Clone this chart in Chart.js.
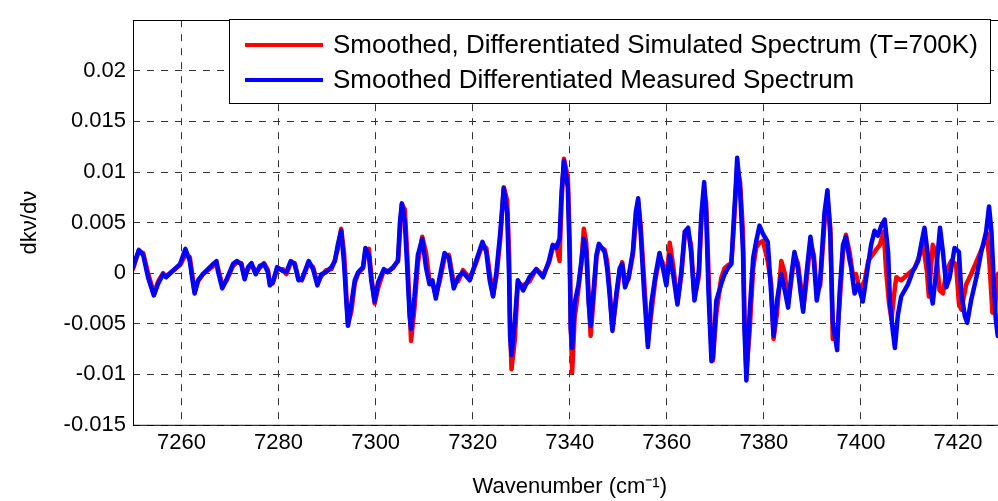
<!DOCTYPE html>
<html>
<head>
<meta charset="utf-8">
<script src="https://cdn.jsdelivr.net/npm/chart.js@4.4.0/dist/chart.umd.min.js"></script>
<style>
  html, body { margin: 0; padding: 0; background: #fff; overflow: hidden; }
  #wrap { width: 1010px; height: 501px; }
</style>
</head>
<body>
<div id="wrap"><canvas id="grafico"></canvas></div>
<script>
// wavenumber grid shared by both curves up to 7397.7 cm-1
const waveCommon = [7250.0, 7251.2, 7252.1, 7253.1, 7254.3, 7255.2, 7256.2, 7256.8, 7259.7, 7260.8,
  7261.7, 7262.4, 7262.7, 7263.4, 7264.4, 7266.5, 7267.2, 7267.5, 7268.4, 7269.2,
  7270.6, 7271.4, 7272.3, 7273.0, 7273.7, 7274.4, 7275.1, 7275.3, 7276.1, 7277.0,
  7277.8, 7278.2, 7278.8, 7279.7, 7280.9, 7281.6, 7282.5, 7283.3, 7284.1, 7284.8,
  7286.2, 7287.1, 7288.0, 7288.8, 7289.8, 7290.9, 7291.6, 7292.2, 7292.9, 7293.5,
  7294.0, 7294.3, 7295.0, 7295.7, 7296.4, 7297.4, 7297.9, 7298.6, 7299.1, 7299.8,
  7300.5, 7301.7, 7302.5, 7303.6, 7304.6, 7305.0, 7305.4, 7306.0, 7306.5, 7307.0,
  7307.3, 7308.0, 7308.7, 7309.6, 7310.4, 7311.1, 7311.7, 7312.4, 7313.2, 7314.2,
  7315.1, 7316.1, 7317.0, 7318.0, 7319.4, 7320.7, 7322.0, 7322.8, 7323.5, 7324.2,
  7324.9, 7325.7, 7326.4, 7327.1, 7327.5, 7327.7, 7328.0, 7328.7, 7329.3, 7330.4,
  7331.7, 7333.1, 7334.5, 7335.7, 7336.5, 7337.2, 7337.9, 7338.3, 7338.8, 7339.6,
  7340.0, 7340.2, 7340.5, 7341.0, 7341.8, 7342.4, 7342.9, 7343.4, 7343.9, 7344.3,
  7345.0, 7345.5, 7346.0, 7347.2, 7347.7, 7348.2, 7348.8, 7349.6, 7350.3, 7350.8,
  7351.4, 7352.1, 7353.0, 7353.6, 7354.1, 7354.6, 7355.3, 7356.1, 7356.8, 7357.6,
  7358.5, 7359.2, 7359.9, 7360.6, 7361.3, 7362.2, 7363.0, 7363.7, 7364.4, 7365.0,
  7365.7, 7366.6, 7367.1, 7367.7, 7368.1, 7368.6, 7369.2, 7369.5, 7370.2, 7371.2,
  7371.9, 7372.6, 7373.3, 7373.8, 7374.2, 7374.5, 7375.1, 7375.7, 7376.0, 7376.4,
  7377.1, 7377.8, 7378.4, 7379.1, 7379.8, 7380.8, 7381.5, 7382.0, 7382.7, 7383.6,
  7384.3, 7385.0, 7385.6, 7386.3, 7387.0, 7387.6, 7388.1, 7388.7, 7389.6, 7390.3,
  7390.9, 7391.6, 7392.5, 7393.1, 7393.7, 7394.2, 7395.1, 7395.6, 7396.3, 7396.9,
  7397.7]

const waveMeasTail = [7398.0, 7398.7, 7399.4, 7400.4, 7401.5, 7402.1, 7402.8, 7403.5, 7404.2, 7404.9,
  7405.6, 7406.0, 7406.6, 7407.0, 7407.6, 7408.3, 7409.7, 7410.7, 7411.8, 7412.4,
  7413.1, 7413.8, 7414.3, 7414.8, 7415.5, 7416.3, 7416.9, 7417.6, 7418.3, 7419.3,
  7420.2, 7420.7, 7421.4, 7421.9, 7422.7, 7423.8, 7424.8, 7425.8, 7426.4, 7426.9,
  7427.4, 7427.8, 7428.2, 7430.0]

const waveSimTail = [7398.4, 7399.0, 7399.8, 7400.8, 7401.5, 7402.8, 7403.9, 7404.7, 7405.2, 7405.8,
  7406.3, 7407.0, 7407.3, 7408.3, 7409.7, 7411.1, 7412.1, 7412.8, 7413.6, 7414.0,
  7414.8, 7415.5, 7416.2, 7416.9, 7417.6, 7418.6, 7419.6, 7420.2, 7420.7, 7421.7,
  7422.7, 7424.1, 7425.5, 7426.0, 7426.5, 7427.1, 7427.6, 7428.2, 7430.0]

// measured spectrum (blue)
const measured = [0.0006, 0.0023, 0.0018, -0.0004, -0.0022, -0.0010, -0.0001, -0.0004, 0.0009, 0.0024,
  0.0012, -0.0011, -0.0020, -0.0007, -0.0001, 0.0009, 0.0012, 0.0002, -0.0015, -0.0007,
  0.0009, 0.0012, 0.0009, -0.0006, 0.0006, 0.0010, 0.0001, -0.0001, 0.0007, 0.0009,
  0.0001, -0.0012, -0.0009, 0.0006, 0.0002, 0.0001, 0.0012, 0.0009, -0.0007, -0.0006,
  0.0012, 0.0004, -0.0012, -0.0001, 0.0001, 0.0006, 0.0012, 0.0028, 0.0042, 0.0009,
  -0.0031, -0.0052, -0.0030, -0.0007, 0.0001, 0.0006, 0.0025, 0.0018, -0.0007, -0.0028,
  -0.0009, 0.0004, 0.0001, 0.0006, 0.0012, 0.0050, 0.0069, 0.0052, 0.0006, -0.0042,
  -0.0055, -0.0023, 0.0018, 0.0034, 0.0005, -0.0011, -0.0007, -0.0025, -0.0004, 0.0020,
  0.0015, -0.0015, -0.0004, 0.0001, -0.0007, 0.0012, 0.0031, 0.0021, -0.0007, -0.0023,
  0.0002, 0.0041, 0.0084, 0.0060, -0.0004, -0.0062, -0.0081, -0.0046, -0.0007, -0.0017,
  -0.0004, 0.0004, -0.0004, 0.0012, 0.0028, 0.0025, 0.0034, 0.0079, 0.0111, 0.0085,
  0.0012, -0.0055, -0.0074, -0.0030, -0.0011, 0.0012, 0.0034, 0.0021, -0.0030, -0.0052,
  -0.0011, 0.0018, 0.0029, 0.0021, 0.0005, -0.0020, -0.0057, -0.0020, 0.0005, 0.0009,
  -0.0014, -0.0004, 0.0021, 0.0060, 0.0074, 0.0041, -0.0017, -0.0073, -0.0030, -0.0004,
  0.0020, 0.0005, -0.0012, 0.0018, -0.0001, -0.0031, 0.0002, 0.0041, 0.0045, 0.0021,
  -0.0027, 0.0002, 0.0057, 0.0090, 0.0060, -0.0020, -0.0087, -0.0084, -0.0027, -0.0011,
  -0.0001, 0.0005, 0.0009, 0.0053, 0.0085, 0.0114, 0.0082, 0.0021, -0.0055, -0.0106,
  -0.0036, 0.0015, 0.0031, 0.0047, 0.0039, 0.0031, -0.0020, -0.0062, -0.0027, -0.0001,
  -0.0017, -0.0034, -0.0004, 0.0021, 0.0005, -0.0020, -0.0038, -0.0004, 0.0036, 0.0012,
  -0.0027, -0.0007, 0.0060, 0.0082, 0.0037, -0.0049, -0.0076, -0.0020, 0.0028, 0.0036,
  0.0012,
  0.0005, -0.0020, -0.0011, -0.0028, 0.0009, 0.0028, 0.0042, 0.0037, 0.0047, 0.0053,
  0.0021, -0.0030, -0.0058, -0.0074, -0.0042, -0.0023, -0.0011, 0.0002, 0.0012, 0.0028,
  0.0045, 0.0018, -0.0017, -0.0030, 0.0002, 0.0045, 0.0021, -0.0014, -0.0004, 0.0025,
  0.0021, -0.0020, -0.0042, -0.0049, -0.0027, -0.0004, 0.0021, 0.0041, 0.0066, 0.0041,
  -0.0011, -0.0046, -0.0062, -0.0060]

// simulated spectrum, T = 700 K (red)
const simulated = [0.0004, 0.0022, 0.0020, 0.0000, -0.0020, -0.0008, 0.0000, -0.0003, 0.0008, 0.0018,
  0.0016, -0.0008, -0.0019, -0.0008, -0.0001, 0.0007, 0.0010, 0.0005, -0.0012, -0.0008,
  0.0007, 0.0011, 0.0010, -0.0004, 0.0004, 0.0009, 0.0003, 0.0000, 0.0005, 0.0010,
  0.0003, -0.0010, -0.0010, 0.0004, 0.0004, -0.0001, 0.0010, 0.0010, -0.0005, -0.0007,
  0.0010, 0.0006, -0.0010, -0.0003, 0.0003, 0.0004, 0.0013, 0.0024, 0.0044, 0.0020,
  -0.0025, -0.0050, -0.0038, -0.0010, 0.0000, 0.0005, 0.0022, 0.0024, -0.0002, -0.0030,
  -0.0015, 0.0003, 0.0002, 0.0005, 0.0013, 0.0040, 0.0068, 0.0063, 0.0020, -0.0035,
  -0.0067, -0.0035, 0.0010, 0.0036, 0.0020, -0.0008, -0.0010, -0.0022, -0.0008, 0.0015,
  0.0018, -0.0010, -0.0008, 0.0003, -0.0005, 0.0010, 0.0028, 0.0025, 0.0000, -0.0022,
  -0.0003, 0.0035, 0.0085, 0.0072, 0.0020, -0.0050, -0.0095, -0.0065, -0.0010, -0.0012,
  -0.0008, 0.0004, -0.0002, 0.0010, 0.0025, 0.0028, 0.0012, 0.0070, 0.0113, 0.0095,
  0.0030, -0.0050, -0.0098, -0.0045, -0.0015, 0.0010, 0.0044, 0.0030, -0.0022, -0.0062,
  -0.0020, 0.0015, 0.0027, 0.0023, 0.0012, -0.0015, -0.0055, -0.0025, 0.0002, 0.0011,
  -0.0010, -0.0006, 0.0018, 0.0050, 0.0070, 0.0048, -0.0005, -0.0068, -0.0040, -0.0008,
  0.0016, 0.0010, -0.0010, 0.0030, 0.0008, -0.0028, -0.0002, 0.0038, 0.0040, 0.0028,
  -0.0025, -0.0003, 0.0050, 0.0080, 0.0070, 0.0000, -0.0075, -0.0086, -0.0040, -0.0005,
  0.0005, 0.0008, 0.0010, 0.0045, 0.0080, 0.0105, 0.0090, 0.0040, -0.0040, -0.0098,
  -0.0055, 0.0005, 0.0025, 0.0030, 0.0032, 0.0012, -0.0010, -0.0065, -0.0040, 0.0012,
  0.0000, -0.0030, -0.0010, 0.0018, 0.0010, -0.0012, -0.0035, -0.0012, 0.0030, 0.0018,
  -0.0020, -0.0012, 0.0050, 0.0075, 0.0045, -0.0065, -0.0060, -0.0030, 0.0020, 0.0038,
  0.0020,
  -0.0004, -0.0001, -0.0017, -0.0007, 0.0012, 0.0021, 0.0028, 0.0041, 0.0002, -0.0030,
  -0.0046, -0.0014, -0.0004, -0.0007, -0.0001, 0.0005, 0.0018, 0.0028, 0.0002, -0.0023,
  0.0028, 0.0021, -0.0017, -0.0020, 0.0002, 0.0012, 0.0009, -0.0030, -0.0036, -0.0011,
  -0.0001, 0.0015, 0.0031, 0.0039, 0.0009, -0.0039, -0.0036, -0.0001, 0.0005]

const xTicks = [7260, 7280, 7300, 7320, 7340, 7360, 7380, 7400, 7420]
const yTicks = [-0.015, -0.01, -0.005, 0, 0.005, 0.01, 0.015, 0.02]
const legendLabels = ['Smoothed, Differentiated Simulated Spectrum (T=700K)', 'Smoothed Differentiated Measured Spectrum']

const waveMeas = waveCommon.concat(waveMeasTail)
const waveSim = waveCommon.concat(waveSimTail)
const pts = (xs, ys) => xs.map((x, i) => ({ x: x, y: ys[i] }))

const FONT = 'Liberation Sans, Arial, sans-serif'

// axes frame + boxed legend like the matlab figure
const caixa = {
    id: 'caixa',
    afterDraw(chart) {
        const c = chart.ctx
        const a = chart.chartArea
        c.save()
        c.strokeStyle = '#000'
        c.lineWidth = 1
        c.strokeRect(Math.round(a.left) + 0.5, Math.round(a.top) + 0.5, a.right - a.left, a.bottom - a.top)

        c.fillStyle = '#fff'
        c.fillRect(229.5, 19.5, 761, 84)
        c.strokeRect(229.5, 19.5, 761, 84)
        const cores = ['rgb(255,0,0)', 'rgb(0,0,255)']
        const ys = [45, 80]
        c.font = '26px ' + FONT
        c.textBaseline = 'middle'
        for (let i = 0; i < 2; i++) {
            c.strokeStyle = cores[i]
            c.lineWidth = 4
            c.beginPath()
            c.moveTo(245, ys[i])
            c.lineTo(323, ys[i])
            c.stroke()
            c.fillStyle = '#000'
            c.fillText(legendLabels[i], 333, ys[i] + 1)
        }
        c.restore()
    }
}

const ctx = document.getElementById('grafico').getContext('2d')

let grafico = new Chart(ctx, {
    type: 'line',
    data: {
        datasets: [{
            label: legendLabels[1],
            data: pts(waveMeas, measured),
            borderColor: 'rgb(0,0,255)',
            borderWidth: 4.5,
            borderJoinStyle: 'round',
            borderCapStyle: 'round',
            pointRadius: 0,
            tension: 0,
            order: 0
        }, {
            label: legendLabels[0],
            data: pts(waveSim, simulated),
            borderColor: 'rgb(255,0,0)',
            borderWidth: 4.5,
            borderJoinStyle: 'round',
            borderCapStyle: 'round',
            pointRadius: 0,
            tension: 0,
            order: 1
        }]
    },
    options: {
        responsive: true,
        maintainAspectRatio: false,
        animation: false,
        layout: { padding: { top: 9, right: 3.5, left: 0, bottom: 0 } },
        plugins: {
            legend: { display: false },
            tooltip: { enabled: false }
        },
        scales: {
            x: {
                type: 'linear',
                min: 7250,
                max: 7430,
                afterBuildTicks: s => { s.ticks = xTicks.map(v => ({ value: v })) },
                afterFit: s => { s.height = 76 },
                grid: { color: '#333', drawTicks: false },
                border: { display: false, dash: [7, 7] },
                ticks: {
                    color: '#000',
                    font: { family: FONT, size: 22 },
                    padding: 5,
                    maxRotation: 0,
                    callback: v => String(v)
                },
                title: {
                    display: true,
                    text: 'Wavenumber (cm\u207B\u00B9)',
                    color: '#000',
                    font: { family: FONT, size: 22 },
                    padding: { top: 0, bottom: 1 }
                }
            },
            y: {
                min: -0.015,
                max: 0.025,
                afterBuildTicks: s => { s.ticks = yTicks.map(v => ({ value: v })) },
                afterFit: s => { s.width = 133 },
                grid: { color: '#333', drawTicks: false },
                border: { display: false, dash: [7, 7] },
                ticks: {
                    color: '#000',
                    font: { family: FONT, size: 22 },
                    padding: 7,
                    callback: v => String(parseFloat(v.toFixed(3)))
                },
                title: {
                    display: true,
                    text: 'dk\u03BD/d\u03BD',
                    color: '#000',
                    font: { family: FONT, size: 22 },
                    padding: { top: 17, bottom: 0 }
                }
            }
        }
    },
    plugins: [caixa]
});
</script>
</body>
</html>
